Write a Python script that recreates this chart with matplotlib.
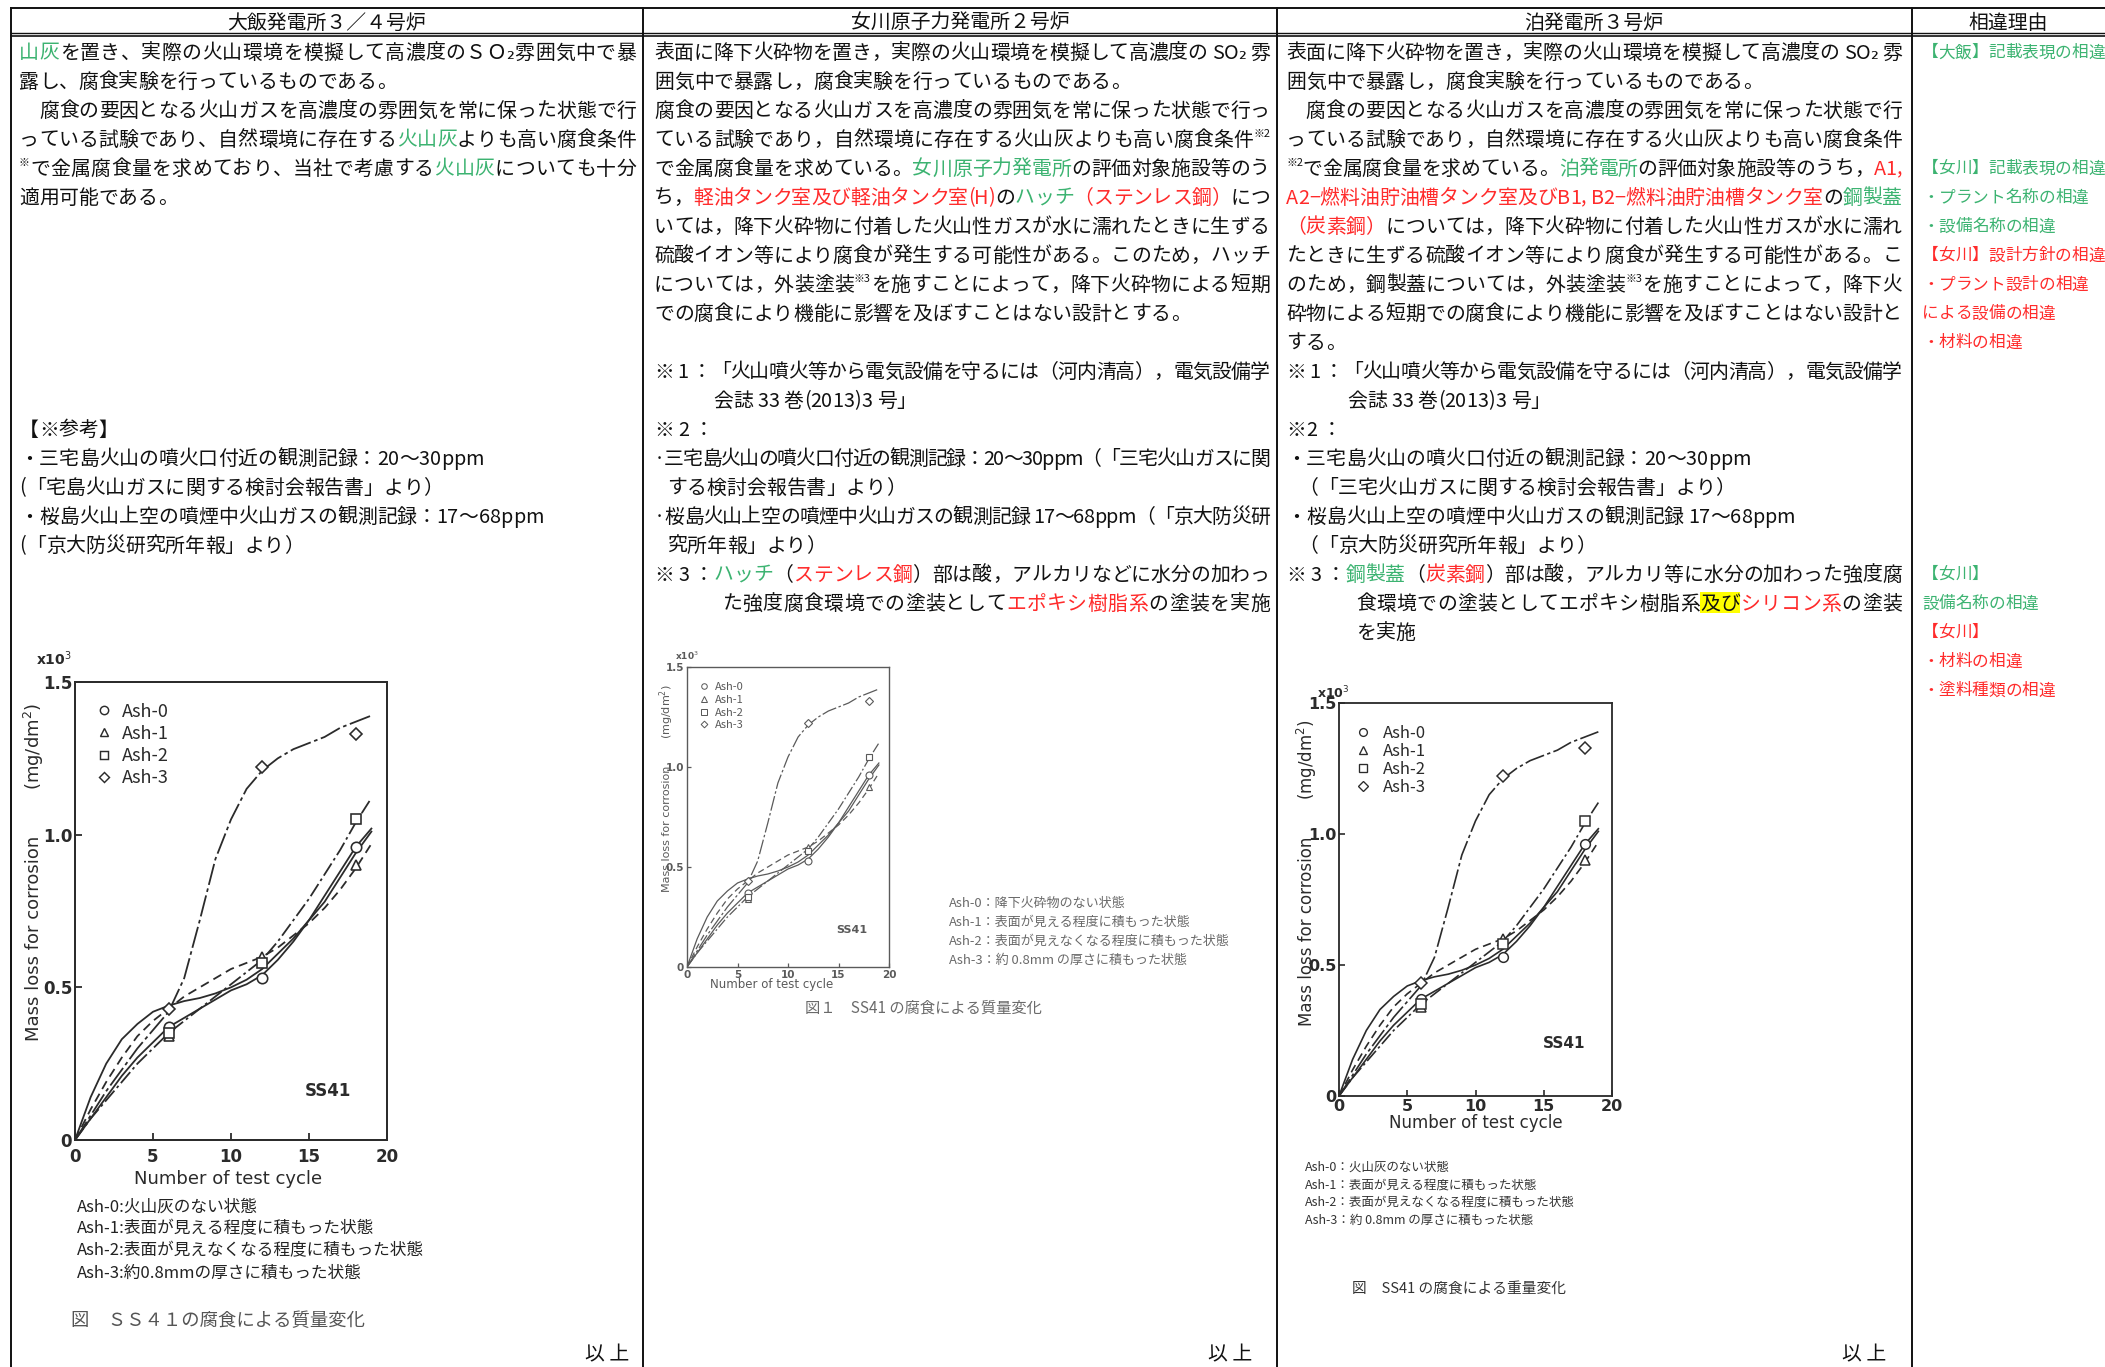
import matplotlib
matplotlib.use('Agg')
import matplotlib.pyplot as plt
from matplotlib.lines import Line2D
from matplotlib.patches import Rectangle

plt.rcParams['font.family'] = ['Noto Sans CJK JP', 'DejaVu Sans']

W, H, DPI = 2105, 1367, 100
K = '#111111'
G = '#3cb371'
R = '#ff2b2b'
BODY = 14.3

# ---- chart data (x: number of test cycle, y: mass loss x10^3 mg/dm2)
cycle_marks = [6, 12, 18]
ash0 = [0.37, 0.53, 0.96]
ash1 = [0.34, 0.60, 0.90]
ash2 = [0.35, 0.58, 1.05]
ash3 = [0.43, 1.22, 1.33]

curve_x = [0, 1, 2, 3, 4, 5, 6, 7, 8, 9, 10, 11, 12, 13, 14, 15, 16, 17, 18, 19]
curve_a = [0, 0.14, 0.25, 0.33, 0.38, 0.42, 0.44, 0.455, 0.465, 0.48, 0.50, 0.525, 0.56, 0.61, 0.66, 0.72, 0.78, 0.86, 0.94, 1.01]
curve_b = [0, 0.10, 0.19, 0.27, 0.34, 0.39, 0.43, 0.47, 0.50, 0.53, 0.56, 0.58, 0.60, 0.63, 0.67, 0.71, 0.76, 0.82, 0.89, 0.97]
curve_c = [0, 0.07, 0.13, 0.19, 0.25, 0.30, 0.35, 0.39, 0.43, 0.47, 0.51, 0.55, 0.59, 0.65, 0.72, 0.79, 0.87, 0.95, 1.04, 1.12]
curve_d = [0, 0.07, 0.14, 0.21, 0.27, 0.32, 0.37, 0.40, 0.43, 0.46, 0.49, 0.51, 0.54, 0.59, 0.65, 0.72, 0.80, 0.88, 0.96, 1.02]
curve_e = [0, 0.08, 0.16, 0.23, 0.30, 0.36, 0.42, 0.53, 0.72, 0.92, 1.05, 1.15, 1.21, 1.25, 1.28, 1.30, 1.32, 1.35, 1.37, 1.39]

ash_labels = ['Ash-0', 'Ash-1', 'Ash-2', 'Ash-3']
x_ticks = [0, 5, 10, 15, 20]
y_ticks = [0, 0.5, 1.0, 1.5]
y_tick_labels = ['0', '0.5', '1.0', '1.5']

# ---- table text
headers = ['大飯発電所３／４号炉', '女川原子力発電所２号炉', '泊発電所３号炉', '相違理由']

col1 = [
    (0, [('山灰', G), ('を置き、実際の火山環境を模擬して高濃度のＳＯ₂雰囲気中で暴', K)]),
    (1, '露し、腐食実験を行っているものである。'),
    (2, '　腐食の要因となる火山ガスを高濃度の雰囲気を常に保った状態で行'),
    (3, [('っている試験であり、自然環境に存在する', K), ('火山灰', G), ('よりも高い腐食条件', K)]),
    (4, [('※', K, 'sup'), ('で金属腐食量を求めており、当社で考慮する', K), ('火山灰', G), ('についても十分', K)]),
    (5, '適用可能である。'),
    (13, '【※参考】'),
    (14, '・三宅島火山の噴火口付近の観測記録：20〜30ppm'),
    (15, '(「宅島火山ガスに関する検討会報告書」より）'),
    (16, '・桜島火山上空の噴煙中火山ガスの観測記録：17〜68ppm'),
    (17, '(「京大防災研究所年報」より）'),
]

col2 = [
    (0, '表面に降下火砕物を置き，実際の火山環境を模擬して高濃度の SO₂ 雰'),
    (1, '囲気中で暴露し，腐食実験を行っているものである。'),
    (2, '腐食の要因となる火山ガスを高濃度の雰囲気を常に保った状態で行っ'),
    (3, [('ている試験であり，自然環境に存在する火山灰よりも高い腐食条件', K), ('※2', K, 'sup')]),
    (4, [('で金属腐食量を求めている。', K), ('女川原子力発電所', G), ('の評価対象施設等のう', K)]),
    (5, [('ち，', K), ('軽油タンク室及び軽油タンク室(H)', R), ('の', K), ('ハッチ', G), ('（ステンレス鋼）', R), ('につ', K)]),
    (6, 'いては，降下火砕物に付着した火山性ガスが水に濡れたときに生ずる'),
    (7, '硫酸イオン等により腐食が発生する可能性がある。このため，ハッチ'),
    (8, [('については，外装塗装', K), ('※3', K, 'sup'), ('を施すことによって，降下火砕物による短期', K)]),
    (9, 'での腐食により機能に影響を及ぼすことはない設計とする。'),
    (11, '※ 1 ：「火山噴火等から電気設備を守るには（河内清高），電気設備学'),
    (12, '会誌 33 巻(2013)3 号」', 59),
    (13, '※ 2 ：'),
    (14, '·三宅島火山の噴火口付近の観測記録：20〜30ppm（「三宅火山ガスに関'),
    (15, 'する検討会報告書」より）', 13),
    (16, '·桜島火山上空の噴煙中火山ガスの観測記録 17〜68ppm（「京大防災研'),
    (17, '究所年報」より）', 13),
    (18, [('※ 3 ：', K), ('ハッチ', G), ('（', K), ('ステンレス鋼', R), ('）部は酸，アルカリなどに水分の加わっ', K)]),
    (19, [('た強度腐食環境での塗装として', K), ('エポキシ樹脂系', R), ('の塗装を実施', K)], 68),
]

col3 = [
    (0, '表面に降下火砕物を置き，実際の火山環境を模擬して高濃度の SO₂ 雰'),
    (1, '囲気中で暴露し，腐食実験を行っているものである。'),
    (2, '　腐食の要因となる火山ガスを高濃度の雰囲気を常に保った状態で行'),
    (3, 'っている試験であり，自然環境に存在する火山灰よりも高い腐食条件'),
    (4, [('※2', K, 'sup'), ('で金属腐食量を求めている。', K), ('泊発電所', G), ('の評価対象施設等のうち，', K), ('A1,', R)]),
    (5, [('A2−燃料油貯油槽タンク室及びB1, B2−燃料油貯油槽タンク室', R), ('の', K), ('鋼製蓋', G)]),
    (6, [('（炭素鋼）', R), ('については，降下火砕物に付着した火山性ガスが水に濡れ', K)]),
    (7, 'たときに生ずる硫酸イオン等により腐食が発生する可能性がある。こ'),
    (8, [('のため，鋼製蓋については，外装塗装', K), ('※3', K, 'sup'), ('を施すことによって，降下火', K)]),
    (9, '砕物による短期での腐食により機能に影響を及ぼすことはない設計と'),
    (10, 'する。'),
    (11, '※ 1 ：「火山噴火等から電気設備を守るには（河内清高），電気設備学'),
    (12, '会誌 33 巻(2013)3 号」', 61),
    (13, '※2 ：'),
    (14, '・三宅島火山の噴火口付近の観測記録：20〜30ppm'),
    (15, '（「三宅火山ガスに関する検討会報告書」より）', 12),
    (16, '・桜島火山上空の噴煙中火山ガスの観測記録 17〜68ppm'),
    (17, '（「京大防災研究所年報」より）', 12),
    (18, [('※ 3 ：', K), ('鋼製蓋', G), ('（', K), ('炭素鋼', R), ('）部は酸，アルカリ等に水分の加わった強度腐', K)]),
    (19, [('食環境での塗装としてエポキシ樹脂系', K), ('及び', K, 'hl'), ('シリコン系', R), ('の塗装', K)], 70),
    (20, 'を実施', 70),
]

col4 = [
    (0, '【大飯】記載表現の相違', G),
    (4, '【女川】記載表現の相違', G),
    (5, '・プラント名称の相違', G),
    (6, '・設備名称の相違', G),
    (7, '【女川】設計方針の相違', R),
    (8, '・プラント設計の相違', R),
    (9, 'による設備の相違', R),
    (10, '・材料の相違', R),
    (18, '【女川】', G),
    (19, '設備名称の相違', G),
    (20, '【女川】', R),
    (21, '・材料の相違', R),
    (22, '・塗料種類の相違', R),
]

desc_osaka = ['Ash-0:火山灰のない状態', 'Ash-1:表面が見える程度に積もった状態',
              'Ash-2:表面が見えなくなる程度に積もった状態', 'Ash-3:約0.8mmの厚さに積もった状態']
desc_onagawa = ['Ash-0：降下火砕物のない状態', 'Ash-1：表面が見える程度に積もった状態',
                'Ash-2：表面が見えなくなる程度に積もった状態', 'Ash-3：約 0.8mm の厚さに積もった状態']
desc_tomari = ['Ash-0：火山灰のない状態', 'Ash-1：表面が見える程度に積もった状態',
               'Ash-2：表面が見えなくなる程度に積もった状態', 'Ash-3：約 0.8mm の厚さに積もった状態']
captions = ['図　ＳＳ４１の腐食による質量変化', '図１　SS41 の腐食による質量変化', '図　SS41 の腐食による重量変化']

# ---- page
fig = plt.figure(figsize=(W / DPI, H / DPI), dpi=DPI)
fig.patch.set_facecolor('white')
page = fig.add_axes([0, 0, 1, 1])
page.set_xlim(0, W)
page.set_ylim(H, 0)
page.axis('off')
rend = fig.canvas.get_renderer()

_adv = {}


def advance(s, size):
    key = (s, size)
    if key not in _adv:
        a = page.text(0, 0, '|' + s + '|', fontsize=size)
        b = page.text(0, 0, '||', fontsize=size)
        _adv[key] = a.get_window_extent(rend).width - b.get_window_extent(rend).width
        a.remove()
        b.remove()
    return _adv[key]


def px(pt):
    return pt * DPI / 72


def draw_line(x0, x1, yc, segs, size=BODY, color=K):
    if isinstance(segs, str):
        segs = [(segs, color)]
    units = []
    for seg in segs:
        text, col = seg[0], seg[1]
        kind = seg[2] if len(seg) > 2 else ''
        if kind == 'sup':
            units.append((text, col, size * 0.55, -px(size) * 0.45, kind))
        else:
            for ch in text:
                units.append((ch, col, size, 0, kind))
    widths = [advance(u[0], u[2]) for u in units]
    total = sum(widths)
    extra = 0
    if x1 is not None and len(units) > 1 and total > 0.9 * (x1 - x0):
        extra = (x1 - x0 - total) / (len(units) - 1)
    base = yc + 0.38 * px(size)
    x = x0
    for u, w in zip(units, widths):
        ch, col, fs, dy, kind = u
        if kind == 'hl':
            page.add_patch(Rectangle((x, base - 0.9 * px(size)), w + extra, 1.05 * px(size),
                                     facecolor='#ffff00', edgecolor='none', zorder=0))
        if ch.strip():
            page.text(x, base + dy, ch, fontsize=fs, color=col, va='baseline', ha='left', zorder=2)
        x += w + extra


def row_y(i):
    return 51 + 29 * i


# table rules
lw = 1.4
for xv in [11, 643, 1277, 1912]:
    page.plot([xv, xv], [8, H], color='#111111', lw=lw)
page.plot([11, W], [8, 8], color='#111111', lw=lw)
page.plot([11, W], [33, 33], color='#111111', lw=1.0)
page.plot([11, W], [36, 36], color='#111111', lw=1.2)

for label, xc in zip(headers, [327, 960, 1594, 2008]):
    page.text(xc, 21 + 0.38 * px(BODY), label, fontsize=BODY, color=K, ha='center', va='baseline')

for lines, (xa, xb) in [(col1, (19, 636)), (col2, (654, 1270)), (col3, (1286, 1902))]:
    for item in lines:
        indent = item[2] if len(item) > 2 else 0
        draw_line(xa + indent, xb, row_y(item[0]), item[1])

for row, text, col in col4:
    draw_line(1922, None, row_y(row), text, size=12, color=col)

# end marks
for xe in [585, 1208, 1842]:
    page.text(xe, 1353 + 0.38 * px(BODY), '以 上', fontsize=BODY, color=K, va='baseline')

# descriptions and captions
for i, t in enumerate(desc_osaka):
    page.text(77, 1207 + 22 * i, t, fontsize=12, color='#222222', va='center')
page.text(71, 1321, captions[0], fontsize=13.2, color='#555555', va='center')
for i, t in enumerate(desc_onagawa):
    page.text(949, 903 + 19 * i, t, fontsize=9.4, color='#6a6a6a', va='center')
page.text(805, 1008, captions[1], fontsize=11, color='#6a6a6a', va='center')
for i, t in enumerate(desc_tomari):
    page.text(1305, 1167 + 17.7 * i, t, fontsize=9, color='#333333', va='center')
page.text(1352, 1289, captions[2], fontsize=10.6, color='#333333', va='center')


# ---- charts
def chart(rect, fs, ms, lwc, col, leg_fs, leg_anchor, leg_space, leg_pad, xpad,
          ylab, unit, xlab, x10, ss):
    x0, y0, x1, y1 = rect
    ax = fig.add_axes([x0 / W, 1 - y1 / H, (x1 - x0) / W, (y1 - y0) / H])
    ax.set_facecolor('none')
    ax.plot(curve_x, curve_a, color=col, lw=lwc, ls='-')
    ax.plot(curve_x, curve_b, color=col, lw=lwc, ls=(0, (5, 3)))
    ax.plot(curve_x, curve_c, color=col, lw=lwc, ls=(0, (8, 2, 1.5, 2)))
    ax.plot(curve_x, curve_d, color=col, lw=lwc, ls='-')
    ax.plot(curve_x, curve_e, color=col, lw=lwc, ls=(0, (12, 2, 2, 2)))
    handles = []
    for vals, mk, lab, m in zip([ash0, ash1, ash2, ash3], ['o', '^', 's', 'D'], ash_labels,
                                [1.0, 1.0, 1.0, 0.85]):
        ax.plot(cycle_marks, vals, ls='none', marker=mk, ms=ms * m, mfc='white', mec=col, mew=lwc * 0.9)
        handles.append(Line2D([], [], ls='none', marker=mk, ms=ms * m * 0.8, mfc='white', mec=col,
                              mew=lwc * 0.8, label=lab))
    ax.legend(handles=handles, loc='upper left', bbox_to_anchor=leg_anchor, frameon=False,
              fontsize=leg_fs, handlelength=0.8, handletextpad=leg_pad, labelspacing=leg_space,
              borderpad=0, borderaxespad=0, labelcolor=col)
    ax.set_xlim(0, 20)
    ax.set_ylim(0, 1.5)
    ax.set_xticks(x_ticks)
    ax.set_xticklabels([str(v) for v in x_ticks])
    ax.set_yticks(y_ticks)
    ax.set_yticklabels(y_tick_labels)
    ax.tick_params(direction='in', length=fs * 0.4, width=lwc, labelsize=fs, colors=col, pad=2)
    ax.tick_params(axis='x', pad=xpad)
    for s in ax.spines.values():
        s.set_color(col)
        s.set_linewidth(lwc * 1.1)
    for lab in ax.get_xticklabels() + ax.get_yticklabels():
        lab.set_fontfamily('DejaVu Sans')
        lab.set_fontweight('bold')
    ax.text(ylab[0], ylab[1], 'Mass loss for corrosion', transform=ax.transAxes, rotation=90,
            ha='center', va='center', fontsize=ylab[2], color=col, family='DejaVu Sans')
    ax.text(unit[0], unit[1], '(mg/dm$^2$)', transform=ax.transAxes, rotation=90,
            ha='center', va='center', fontsize=unit[2], color=col, family='DejaVu Sans')
    ax.text(xlab[0], xlab[1], 'Number of test cycle', transform=ax.transAxes,
            ha='center', va='center', fontsize=xlab[2], color=col, family='DejaVu Sans')
    ax.text(x10[0], x10[1], 'x10$^3$', transform=ax.transAxes, ha='left', va='center',
            fontsize=x10[2], color=col, family='DejaVu Sans', fontweight='bold')
    ax.text(ss[0], ss[1], 'SS41', ha='center', va='center', fontsize=ss[2], color=col,
            family='DejaVu Sans', fontweight='bold')
    return ax


chart((75, 682, 387, 1140), 12, 7.5, 1.3, '#2b2b2b', 13, (0.07, 0.955), 0.23, 0.6, 6,
      (-0.13, 0.44, 13), (-0.13, 0.86, 13), (0.49, -0.085, 13), (-0.125, 1.05, 10), (16.2, 0.16, 12))
chart((687, 667, 889, 967), 7.5, 5, 0.9, '#5a5a5a', 8, (0.06, 0.95), 0.25, 0.6, 2,
      (-0.1, 0.46, 8), (-0.1, 0.85, 8), (0.42, -0.057, 8.5), (-0.06, 1.037, 6.5), (16.3, 0.185, 8))
chart((1339, 703, 1612, 1096), 11.5, 7, 1.2, '#2b2b2b', 12, (0.065, 0.945), 0.07, 0.8, 2,
      (-0.117, 0.42, 12), (-0.117, 0.855, 12), (0.5, -0.068, 12), (-0.08, 1.025, 9), (16.5, 0.2, 11))

fig.savefig('out.png', dpi=DPI, facecolor='white')
